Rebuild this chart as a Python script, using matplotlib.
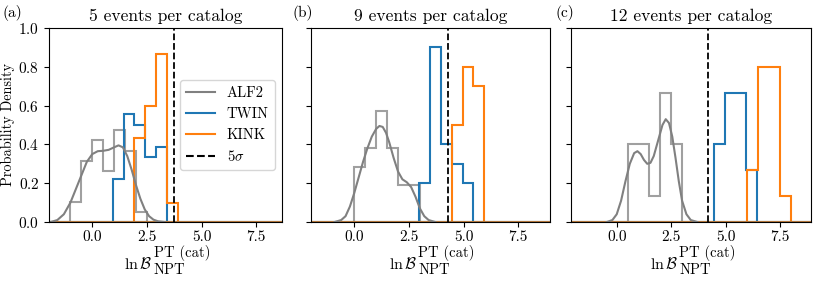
import numpy as np
import matplotlib
matplotlib.use('Agg')
import matplotlib.pyplot as plt

plt.rcParams['font.family'] = 'serif'
plt.rcParams['font.serif'] = ['cmr10']
plt.rcParams['mathtext.fontset'] = 'cm'
plt.rcParams['axes.formatter.use_mathtext'] = True
plt.rcParams['font.size'] = 11

# panel titles and labels
titles = ['5 events per catalog', '9 events per catalog', '12 events per catalog']
panel_tags = ['(a)', '(b)', '(c)']

# histogram bin edges and densities
alf2_edges = [
    [-1.0, -0.5, 0.0, 0.5, 1.0, 1.5, 2.0, 2.5],
    [0.0, 0.5, 1.0, 1.5, 2.0, 2.5, 3.0],
    [0.5, 1.0, 1.5, 2.0, 2.5, 3.0],
]
alf2_dens = [
    [0.105, 0.316, 0.421, 0.263, 0.474, 0.368, 0.053],
    [0.286, 0.381, 0.571, 0.381, 0.190, 0.190],
    [0.400, 0.400, 0.133, 0.667, 0.400],
]
twin_edges = [
    [0.95, 1.44, 1.93, 2.42, 2.91, 3.40],
    [2.95, 3.45, 3.95, 4.45, 4.95, 5.45],
    [4.45, 4.95, 5.45, 5.95, 6.45],
]
twin_dens = [
    [0.222, 0.556, 0.500, 0.333, 0.389],
    [0.200, 0.900, 0.400, 0.300, 0.200],
    [0.400, 0.667, 0.667, 0.267],
]
kink_edges = [
    [1.93, 2.43, 2.93, 3.43, 3.93],
    [4.45, 4.95, 5.45, 5.95],
    [5.98, 6.48, 6.98, 7.48, 7.98],
]
kink_dens = [
    [0.433, 0.600, 0.867, 0.100],
    [0.500, 0.800, 0.700],
    [0.267, 0.800, 0.800, 0.133],
]

# ALF2 kernel density curves
kde_x = [
    [-1.9, -1.6, -1.3, -1.0, -0.75, -0.5, -0.25, 0.0, 0.25, 0.5, 0.75, 1.0, 1.2,
     1.4, 1.6, 1.8, 2.0, 2.2, 2.4, 2.6, 2.8, 3.0, 3.3],
    [-0.9, -0.6, -0.4, -0.2, 0.0, 0.2, 0.4, 0.6, 0.8, 1.0, 1.15, 1.3, 1.45, 1.6,
     1.8, 2.0, 2.2, 2.4, 2.6, 2.8, 3.0, 3.2, 3.4, 3.7],
    [-0.45, -0.2, 0.0, 0.2, 0.4, 0.6, 0.8, 0.95, 1.1, 1.25, 1.4, 1.55, 1.7, 1.85,
     2.0, 2.1, 2.25, 2.4, 2.55, 2.7, 2.85, 3.0, 3.2, 3.4, 3.7],
]
kde_y = [
    [0.0, 0.01, 0.04, 0.10, 0.17, 0.24, 0.31, 0.35, 0.365, 0.367, 0.372, 0.385,
     0.395, 0.385, 0.34, 0.27, 0.19, 0.12, 0.065, 0.03, 0.012, 0.004, 0.0],
    [0.0, 0.01, 0.03, 0.08, 0.15, 0.23, 0.31, 0.38, 0.44, 0.48, 0.495, 0.49, 0.46,
     0.41, 0.33, 0.26, 0.22, 0.205, 0.18, 0.13, 0.07, 0.03, 0.01, 0.0],
    [0.0, 0.01, 0.04, 0.11, 0.21, 0.30, 0.355, 0.365, 0.35, 0.32, 0.30, 0.305,
     0.34, 0.40, 0.46, 0.50, 0.53, 0.51, 0.44, 0.33, 0.21, 0.11, 0.04, 0.01, 0.0],
]

# 5 sigma threshold per panel
five_sigma = [3.72, 4.27, 4.21]

x_limits = [(-1.98, 8.68), (-1.98, 8.95), (-2.1, 8.92)]

fig, axes = plt.subplots(1, 3, figsize=(8.22, 2.81), dpi=100, sharey=True)
positions = [(49, 233), (311, 239), (571, 240)]

for i, ax in enumerate(axes):
    left, width = positions[i]
    ax.set_position([left / 822, 59 / 281, width / 822, 194 / 281])

    ax.axhline(0, color='tab:gray', lw=1.5)
    ax.axhline(0, color='tab:blue', lw=1.5)
    ax.axhline(0, color='tab:orange', lw=1.5, alpha=0.7)

    ax.stairs(alf2_dens[i], alf2_edges[i], color='gray', alpha=0.75, lw=1.5)
    ax.stairs(twin_dens[i], twin_edges[i], color='tab:blue', lw=1.5)
    ax.stairs(kink_dens[i], kink_edges[i], color='tab:orange', lw=1.5)
    ax.plot(kde_x[i], kde_y[i], color='gray', lw=1.5)
    ax.axvline(five_sigma[i], color='k', ls='--', lw=1.3)

    ax.set_xlim(x_limits[i])
    ax.set_ylim(0, 1.0)
    ax.set_xticks([0.0, 2.5, 5.0, 7.5])
    ax.set_xticklabels(['0.0', '2.5', '5.0', '7.5'])
    ax.tick_params(axis='x', pad=2.5)
    ax.set_title(titles[i], fontsize=12.6, pad=5)

    # x label: ln B with full-size super/subscripts, as in the reference
    ax.annotate(r'$\ln\mathcal{B}$', xy=(0.5, 0), xycoords='axes fraction',
                xytext=(-13, -42), textcoords='offset pixels',
                ha='right', va='center', fontsize=11.5)
    ax.annotate('PT (cat)', xy=(0.5, 0), xycoords='axes fraction',
                xytext=(-12, -31), textcoords='offset pixels',
                ha='left', va='center', fontsize=10.5)
    ax.annotate('NPT', xy=(0.5, 0), xycoords='axes fraction',
                xytext=(-12, -48), textcoords='offset pixels',
                ha='left', va='center', fontsize=10.5)

axes[0].set_ylabel('Probability Density', fontsize=10.3)
axes[0].yaxis.set_label_coords(-0.145, 0.5)

# legend handles only
axes[0].plot([], [], color='gray', label='ALF2')
axes[0].plot([], [], color='tab:blue', label='TWIN')
axes[0].plot([], [], color='tab:orange', label='KINK')
axes[0].plot([], [], color='k', ls='--', label=r'$5\sigma$')
axes[0].legend(loc='center right', fontsize=10.5)

for tag, xpos in zip(panel_tags, [12, 303, 565]):
    fig.text(xpos / 822, 1 - 13 / 281, tag, ha='center', va='center', fontsize=11)

plt.savefig('out.png', dpi=100)
